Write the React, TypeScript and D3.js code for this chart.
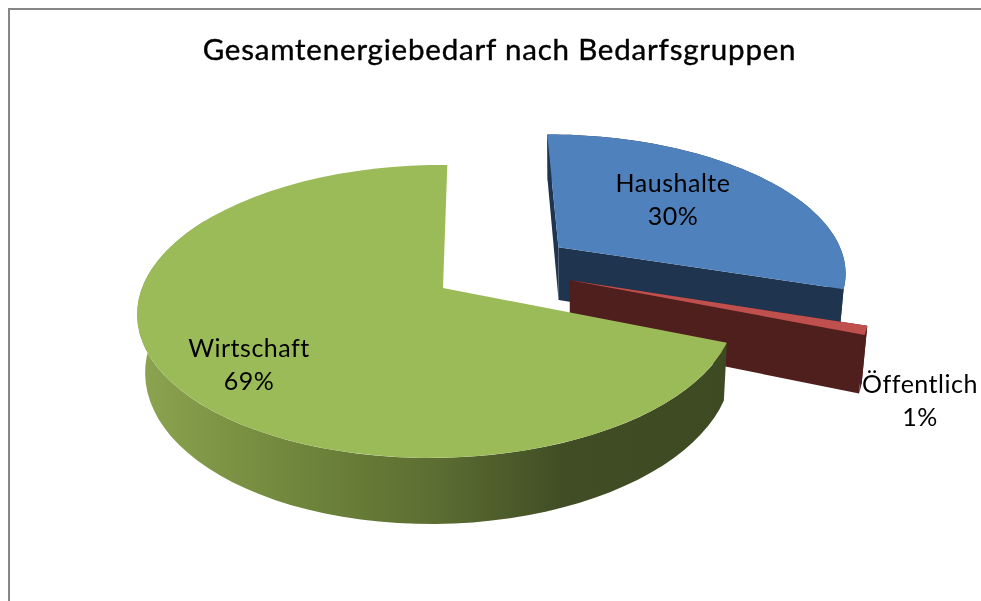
import * as d3 from "d3";
import { useEffect, useRef } from "react";

const title = "Gesamtenergiebedarf nach Bedarfsgruppen";
const categories = ["Haushalte", "Öffentlich", "Wirtschaft"];
const shares = [30, 1, 69];
const topColors = ["#4f81bd", "#c0504d", "#9bbb59"];
const sideColors = ["#1f344f", "#4f1f1e", "#3f4a23"];
const offsets: [number, number][] = [[0.405, 0.3], [0.433, 0.055], [0, 0]]; // exploded slices, in disk units
const skew = [0, 0, 0.02]; // green is foreshortened on its right side
const labelPos: [number, number][] = [[673, 192], [920, 393], [249, 357]];

const width = 981, height = 601;
const cx = 443, cy = 288, R = 295, T = 142.7, P = 0.16, shear = 5, D = 55.5;

type Pt = [number, number];

export default function App() {
  const ref = useRef<SVGSVGElement>(null);

  useEffect(() => {
    if (!ref.current) return;
    const svg = d3.select(ref.current);
    svg.selectAll("*").remove();

    const arcs = d3.pie<number>().sort(null)(shares);

    // tilted disk -> screen, z = 0 is the top face and z = 1 the bottom one
    const project = (i: number, a: number, r: number, z: number): Pt => {
      const u = offsets[i][0] + r * Math.sin(a);
      const v = offsets[i][1] + r * Math.cos(a);
      const s = 1 / (1 + P * v + skew[i] * u);
      const x = cx + (R * u + shear * v) * s;
      const y = cy - T * v * s;
      return [x + z * 0.0187 * (566 - x), y + z * D * s];
    };

    const sample = (i: number, a0: number, a1: number, z: number): Pt[] =>
      d3.range(0, 61).map((k) => project(i, a0 + ((a1 - a0) * k) / 60, 1, z));

    const line = d3.line<Pt>();
    const poly = (pts: Pt[], fill: string) =>
      svg.append("path").attr("d", line(pts) + "Z").attr("fill", fill);

    const defs = svg.append("defs");
    const grad = defs
      .append("linearGradient")
      .attr("id", "greenSide")
      .attr("gradientUnits", "userSpaceOnUse")
      .attr("x1", 146)
      .attr("x2", 722)
      .attr("y1", 0)
      .attr("y2", 0);
    [
      [0, "#8ba34f"],
      [0.27, "#6f853b"],
      [0.5, "#5c6e32"],
      [0.72, "#414e25"],
      [1, "#3e4a22"],
    ].forEach(([o, c]) => grad.append("stop").attr("offset", o).attr("stop-color", c));
    defs
      .append("filter")
      .attr("id", "soft")
      .append("feGaussianBlur")
      .attr("stdDeviation", 0.45);

    // frame, only the top and left edges are in the picture
    svg.append("rect").attr("x", 8).attr("y", 8).attr("width", width - 8).attr("height", 2).attr("fill", "#868686");
    svg.append("rect").attr("x", 8).attr("y", 8).attr("width", 2).attr("height", height - 8).attr("fill", "#868686");

    arcs.forEach((d, i) => {
      const a0 = d.startAngle, a1 = d.endAngle;
      const vertex = project(i, 0, 0, 0), vertexLow = project(i, 0, 0, 1);
      const top = [vertex, ...sample(i, a0, a1, 0)];

      if (i === 2) {
        // outer wall of the big slice
        const end = Math.min(a1, (300 * Math.PI) / 180);
        poly([...sample(i, a0, end, 0), ...sample(i, a0, end, 1).reverse()], "url(#greenSide)");
      } else {
        // cut faces and the outer wall
        poly([vertex, project(i, a0, 1, 0), project(i, a0, 1, 1), vertexLow], sideColors[i]);
        poly([...sample(i, a0, a1, 0), ...sample(i, a0, a1, 1).reverse()], sideColors[i]);
        poly([vertex, project(i, a1, 1, 0), project(i, a1, 1, 1), vertexLow], sideColors[i]);
      }
      poly(top, topColors[i]);
    });

    // labels
    arcs.forEach((d, i) => {
      const t = svg
        .append("text")
        .attr("text-anchor", "middle")
        .attr("font-family", "Lato")
        .attr("font-size", 25)
        .attr("letter-spacing", 0.5)
        .attr("fill", "#000")
        .attr("filter", "url(#soft)");
      t.append("tspan").attr("x", labelPos[i][0]).attr("y", labelPos[i][1]).text(categories[i]);
      t.append("tspan").attr("x", labelPos[i][0]).attr("y", labelPos[i][1] + 33).text(`${d.data}%`);
    });

    svg
      .append("text")
      .attr("x", 499.5)
      .attr("y", 60)
      .attr("text-anchor", "middle")
      .attr("font-family", "Lato")
      .attr("font-size", 29.5)
      .attr("letter-spacing", 0.8)
      .attr("fill", "#000")
      .attr("stroke", "#000")
      .attr("stroke-width", 0.4)
      .attr("filter", "url(#soft)")
      .text(title);
  }, []);

  return (
    <svg
      ref={ref}
      width={width}
      height={height}
      style={{ position: "absolute", left: 0, top: 0, background: "#fff" }}
    />
  );
}
